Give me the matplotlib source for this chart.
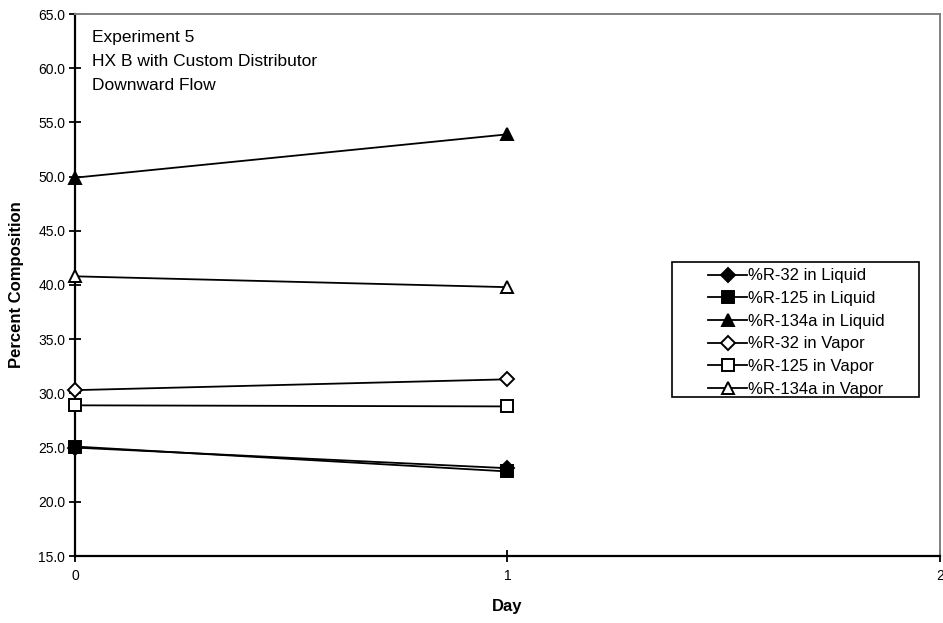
import matplotlib
matplotlib.use("Agg")
import matplotlib.pyplot as plt
from matplotlib.patches import Rectangle

plt.rcParams['font.family'] = ['Liberation Sans', 'DejaVu Sans']

days = [0, 1]
r32_liq = [25.0, 23.1]
r125_liq = [25.1, 22.8]
r134a_liq = [49.9, 53.9]
r32_vap = [30.3, 31.3]
r125_vap = [28.9, 28.8]
r134a_vap = [40.8, 39.8]

series = [
    ("%R-32 in Liquid", r32_liq, 'D', 'k'),
    ("%R-125 in Liquid", r125_liq, 's', 'k'),
    ("%R-134a in Liquid", r134a_liq, '^', 'k'),
    ("%R-32 in Vapor", r32_vap, 'D', 'w'),
    ("%R-125 in Vapor", r125_vap, 's', 'w'),
    ("%R-134a in Vapor", r134a_vap, '^', 'w'),
]

W, H = 943, 623
fig = plt.figure(figsize=(W / 100, H / 100), dpi=100)
axs = fig.add_axes([75 / W, 1 - 556 / H, 865 / W, 542 / H])

for name, vals, m, fc in series:
    ms = {'D': 7.5, 's': 8, '^': 9}[m]
    axs.plot(days, vals, color='k', linewidth=1.3, marker=m, markersize=ms,
             markerfacecolor=fc, markeredgecolor='k', markeredgewidth=1.4,
             label=name, clip_on=False, zorder=3)

axs.set_xlim(0, 2)
axs.set_ylim(15, 65)
axs.set_xticks([0, 1, 2])
axs.set_yticks(range(15, 66, 5))
axs.set_yticklabels(["%.1f" % v for v in range(15, 66, 5)])
axs.tick_params(direction='inout', length=8, width=1.3, labelsize=10, colors='k', pad=3)
axs.tick_params(axis='x', pad=5)
for s in ['left', 'bottom']:
    axs.spines[s].set_linewidth(1.6)
for s in ['top', 'right']:
    axs.spines[s].set_color('#808080')
    axs.spines[s].set_linewidth(1.4)

axs.set_ylabel("Percent Composition", fontsize=12, fontweight='bold', labelpad=10)
axs.set_xlabel("Day", fontsize=12, fontweight='bold', labelpad=12)

axs.text(92 / W, 1 - 30 / H, "Experiment 5\nHX B with Custom Distributor\nDownward Flow",
         transform=fig.transFigure, fontsize=12.5, va='top', ha='left', linespacing=1.75)

# legend frame drawn separately, Excel-style wide left padding
fig.patches.append(Rectangle((672 / W, 1 - 397 / H), 247 / W, 135 / H,
                             transform=fig.transFigure, fill=False,
                             edgecolor='k', linewidth=1.2))
leg = axs.legend(loc='upper left', bbox_to_anchor=(705 / W, 1 - 265 / H),
                 bbox_transform=fig.transFigure, frameon=False, fontsize=12,
                 handlelength=2.3, handletextpad=0.1, labelspacing=0.46,
                 borderpad=0.2, borderaxespad=0)

plt.savefig("out.png", dpi=100)
